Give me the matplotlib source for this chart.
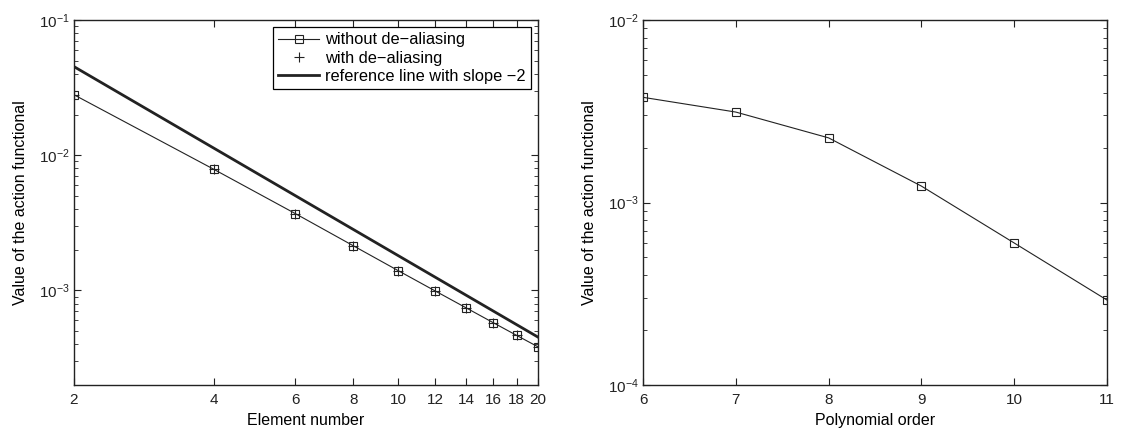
import matplotlib
matplotlib.use("Agg")
import matplotlib.pyplot as plt
from matplotlib.ticker import FixedLocator, FixedFormatter, LogLocator, NullFormatter, NullLocator

plt.rcParams['font.family'] = ['Liberation Sans', 'DejaVu Sans']
plt.rcParams['mathtext.fontset'] = 'custom'
plt.rcParams['mathtext.rm'] = 'Liberation Sans'
plt.rcParams['mathtext.it'] = 'Liberation Sans'
plt.rcParams['mathtext.default'] = 'regular'
plt.rcParams['font.size'] = 11

# Left panel data
elements = [2, 4, 6, 8, 10, 12, 14, 16, 18, 20]
without_dealias = [2.80e-2, 7.88e-3, 3.70e-3, 2.14e-3, 1.40e-3, 9.93e-4, 7.44e-4, 5.79e-4, 4.65e-4, 3.83e-4]
with_dealias = [2.80e-2, 7.88e-3, 3.70e-3, 2.14e-3, 1.40e-3, 9.93e-4, 7.44e-4, 5.79e-4, 4.65e-4, 3.83e-4]
ref_x = [2, 20]
ref_y = [4.52e-2, 4.52e-4]
left_xticks = [2, 4, 6, 8, 10, 12, 14, 16, 18, 20]

# Right panel data
poly_order = [6, 7, 8, 9, 10, 11]
action_value = [3.77e-3, 3.13e-3, 2.26e-3, 1.23e-3, 6.0e-4, 2.92e-4]

W, H = 1121, 432
fig = plt.figure(figsize=(W / 100, H / 100), dpi=100)
ax1 = fig.add_axes([74 / W, 1 - 385 / H, (538 - 74) / W, (385 - 20) / H])
ax2 = fig.add_axes([643 / W, 1 - 385 / H, (1107 - 643) / W, (385 - 20) / H])

ax1.plot(elements, without_dealias, '-', color='#222222', lw=0.8, marker='s', ms=6,
         mfc='none', mec='#222222', mew=0.8, label='without de\u2212aliasing')
ax1.plot(elements, with_dealias, linestyle='none', marker='+', ms=7, color='#222222',
         mew=0.8, label='with de\u2212aliasing')
ax1.plot(ref_x, ref_y, '-', color='#222222', lw=2.0, label='reference line with slope \u22122')
ax1.set_xscale('log')
ax1.set_yscale('log')
ax1.set_xlim(2, 20)
ax1.set_ylim(2e-4, 1e-1)
ax1.xaxis.set_major_locator(FixedLocator(left_xticks))
ax1.xaxis.set_major_formatter(FixedFormatter([str(v) for v in left_xticks]))
ax1.xaxis.set_minor_locator(NullLocator())
ax1.set_xlabel('Element number', fontsize=11.5, labelpad=4)
ax1.set_ylabel('Value of the action functional', fontsize=11.5, labelpad=8)
leg = ax1.legend(loc='upper right', fancybox=False, framealpha=1, edgecolor='black',
                 fontsize=11.8, handlelength=2.5, borderaxespad=0.45, labelspacing=0.2,
                 borderpad=0.3, handletextpad=0.35)
leg.get_frame().set_linewidth(0.9)

ax2.plot(poly_order, action_value, '-', color='#222222', lw=0.8, marker='s', ms=6,
         mfc='none', mec='#222222', mew=0.8)
ax2.set_yscale('log')
ax2.set_xlim(6, 11)
ax2.set_ylim(1e-4, 1e-2)
ax2.set_xticks(poly_order)
ax2.set_xlabel('Polynomial order', fontsize=11.5, labelpad=4)
ax2.set_ylabel('Value of the action functional', fontsize=11.5, labelpad=8)

for ax in (ax1, ax2):
    ax.yaxis.set_major_locator(LogLocator(base=10, numticks=10))
    ax.yaxis.set_minor_locator(LogLocator(base=10, subs=range(2, 10), numticks=10))
    ax.yaxis.set_minor_formatter(NullFormatter())
    ax.tick_params(which='both', direction='in', top=True, right=True, labelsize=11, colors='#222222')
    ax.tick_params(which='major', length=5, width=0.8)
    ax.tick_params(axis='x', which='major', pad=6)
    ax.tick_params(axis='y', which='major', pad=3)
    ax.tick_params(which='minor', length=3, width=0.6)
    for s in ax.spines.values():
        s.set_linewidth(1.0)
        s.set_color('#222222')

fig.savefig('out.png', dpi=100)
